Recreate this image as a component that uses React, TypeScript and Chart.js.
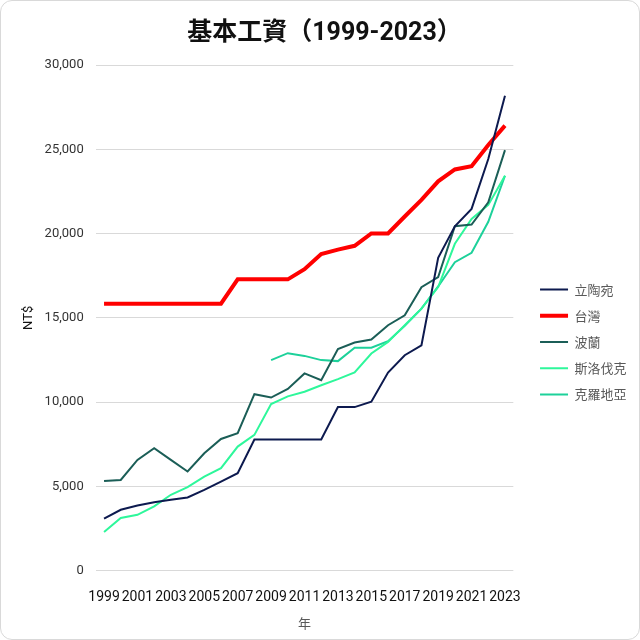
import React, { useEffect, useRef } from "react";
import { Chart, registerables } from "chart.js";

Chart.register(...registerables);

const years = ["1999","2000","2001","2002","2003","2004","2005","2006","2007","2008","2009","2010","2011","2012","2013","2014","2015","2016","2017","2018","2019","2020","2021","2022","2023"];

const lithuania = [3080, 3610, 3860, 4060, 4200, 4340, 4790, 5280, 5780, 7780, 7780, 7780, 7780, 7780, 9700, 9700, 10020, 11750, 12780, 13370, 18560, 20430, 21460, 24420, 28170];
const taiwan = [15840, 15840, 15840, 15840, 15840, 15840, 15840, 15840, 17280, 17280, 17280, 17280, 17880, 18780, 19047, 19273, 20008, 20008, 21009, 22000, 23100, 23800, 24000, 25250, 26400];
const poland = [5310, 5380, 6570, 7260, 6570, 5880, 6960, 7810, 8150, 10470, 10270, 10780, 11700, 11300, 13140, 13530, 13710, 14560, 15150, 16820, 17410, 20430, 20530, 21850, 24950];
const slovakia = [2290, 3120, 3310, 3810, 4500, 4950, 5580, 6080, 7360, 8050, 9880, 10340, 10610, 11000, 11360, 11760, 12880, 13570, 14560, 15540, 16820, 19390, 20870, 21700, 23430];
const croatia = [null, null, null, null, null, null, null, null, null, null, 12490, 12900, 12740, 12490, 12430, 13230, 13230, 13610, 14520, 15540, 16860, 18300, 18860, 20700, 23430];

const seriesNames = ["立陶宛", "台灣", "波蘭", "斯洛伐克", "克羅地亞"];
const seriesColors = ["#0d1a4f", "#ff0000", "#1b5e57", "#2ef79b", "#1dd19a"];
const seriesWidths = [2, 4, 2, 2, 2];

const yTicks = [0, 5000, 10000, 15000, 20000, 25000, 30000];

const CJK = "'Noto Sans CJK TC', 'Noto Sans CJK SC', sans-serif";
const NUM = "Roboto, 'Noto Sans CJK TC', sans-serif";

export default function App() {
  const ref = useRef<HTMLCanvasElement | null>(null);
  useEffect(() => {
    document.body.style.margin = "0";
    const values = [lithuania, taiwan, poland, slovakia, croatia];
    const chart = new Chart(ref.current as HTMLCanvasElement, {
      type: "line",
      data: {
        labels: years,
        datasets: values.map((d, i) => ({
          label: seriesNames[i],
          data: d,
          borderColor: seriesColors[i],
          backgroundColor: seriesColors[i],
          borderWidth: seriesWidths[i],
          pointRadius: 0,
          pointHoverRadius: 0,
          tension: 0,
          fill: false,
          yAxisID: "y",
        })),
      },
      options: {
        animation: false,
        responsive: true,
        maintainAspectRatio: false,
        layout: { padding: { top: 8, left: 20, right: 11, bottom: 8 } },
        plugins: {
          title: {
            display: true,
            text: "基本工資（1999-2023）",
            color: "#111",
            font: { family: NUM, size: 25, weight: "bold" },
            padding: { top: 10, bottom: 16 },
          },
          legend: {
            position: "right",
            title: { display: true, text: " ", font: { size: 10 }, padding: 16 },
            labels: {
              usePointStyle: true,
              pointStyle: "line",
              pointStyleWidth: 28,
              boxHeight: 13,
              padding: 13.2,
              color: "#595959",
              font: { family: CJK, size: 13 },
            },
          },
          tooltip: { enabled: false },
        },
        scales: {
          x: {
            offset: true,
            grid: { display: false },
            border: { display: false },
            ticks: {
              autoSkip: false,
              maxRotation: 0,
              padding: 10,
              color: "#111",
              font: { family: NUM, size: 14 },
              callback: (_v: any, idx: number) => (idx % 2 === 0 ? years[idx] : ""),
            },
            title: {
              display: true,
              text: "年",
              color: "#595959",
              font: { family: CJK, size: 13 },
              padding: { top: 0, bottom: 0 },
            },
          },
          y: {
            min: yTicks[0],
            max: yTicks[yTicks.length - 1],
            grid: { color: "#d9d9d9", lineWidth: 1, drawTicks: false },
            border: { display: false },
            afterBuildTicks: (scale: any) => {
              scale.ticks = yTicks.map((v) => ({ value: v }));
            },
            ticks: {
              padding: 12,
              color: "#333",
              font: { family: NUM, size: 13 },
              callback: (v: any) => Number(v).toLocaleString("en-US"),
            },
            title: {
              display: true,
              text: "NT$",
              color: "#111",
              font: { family: NUM, size: 13 },
              padding: { top: 0, bottom: -4 },
            },
          },
          gap: {
            type: "linear",
            position: "right",
            display: true,
            grid: { display: false },
            border: { display: false },
            ticks: { display: false },
            afterFit: (scale: any) => {
              scale.width = 13.5;
            },
          },
        },
      },
    });
    return () => chart.destroy();
  }, []);
  return (
    <div
      style={{
        position: "relative",
        width: 640,
        height: 640,
        boxSizing: "border-box",
        border: "1px solid #d9d9d9",
        borderRadius: 12,
        background: "#fff",
        overflow: "hidden",
      }}
    >
      <canvas ref={ref} />
    </div>
  );
}
